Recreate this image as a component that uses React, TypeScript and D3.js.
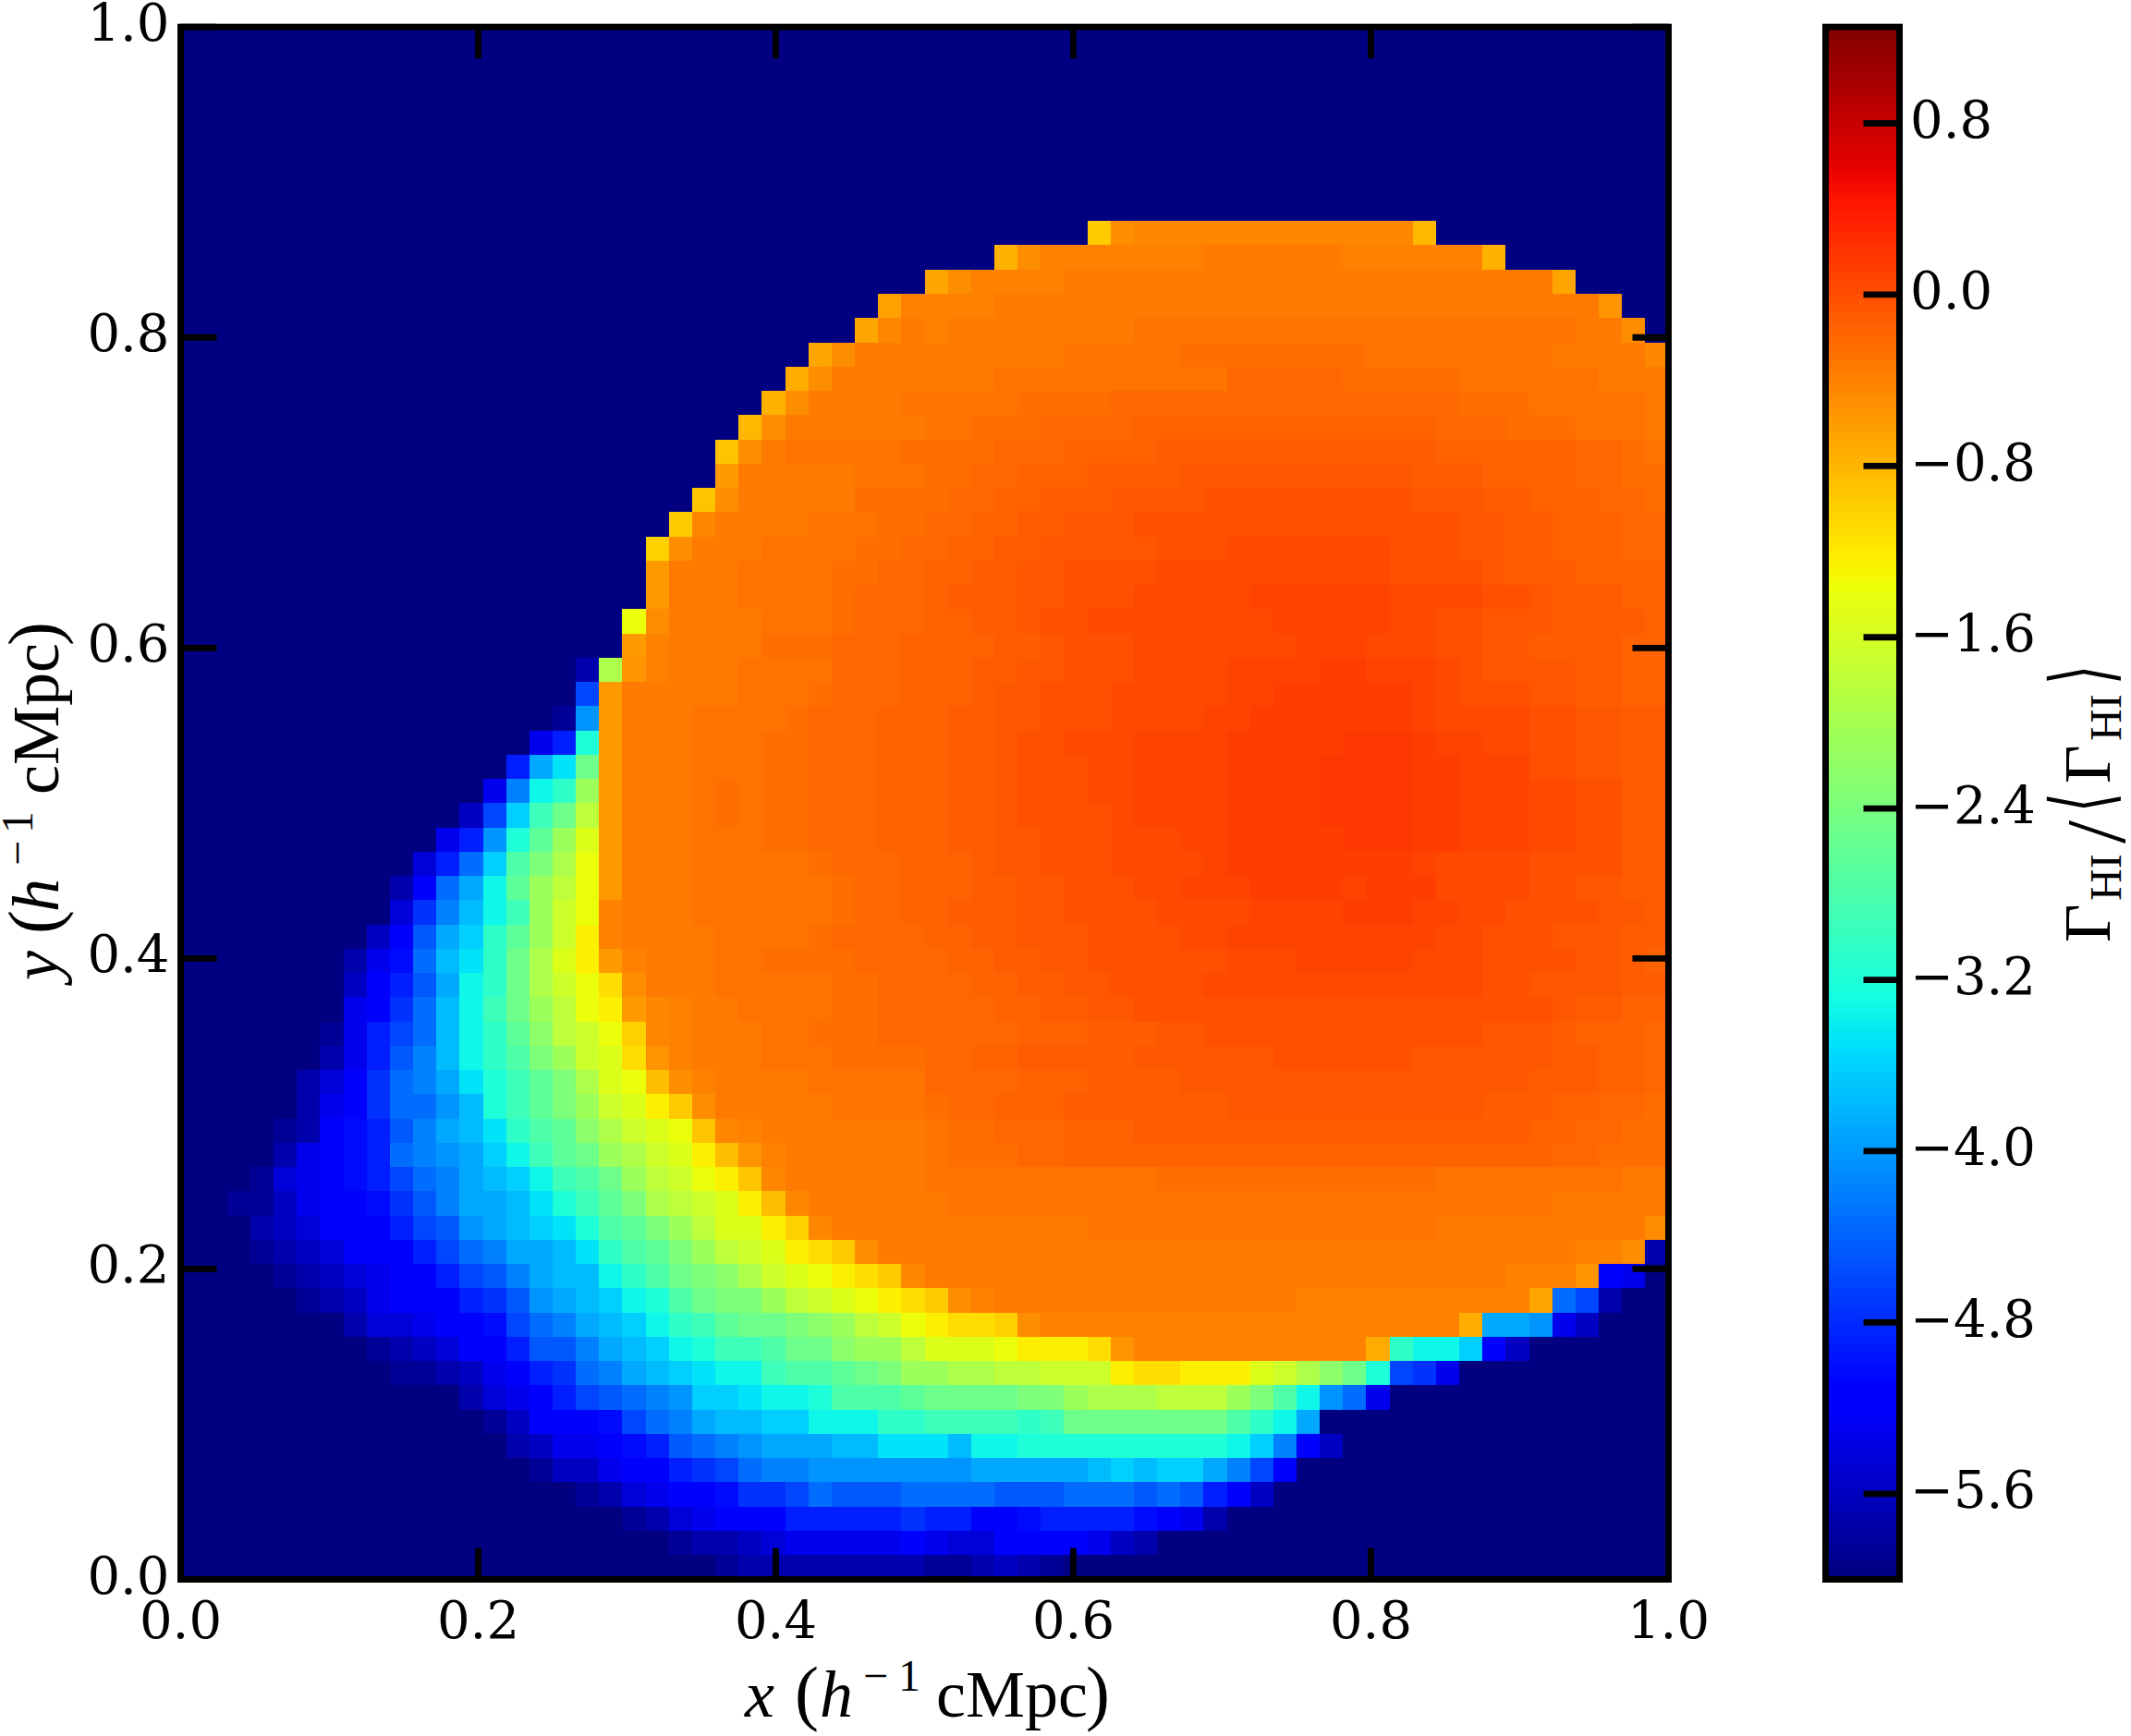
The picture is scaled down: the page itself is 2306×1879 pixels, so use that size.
import { useEffect, useRef } from "react";
import * as d3 from "d3";

// tick labels
const xTicks = [0, 0.2, 0.4, 0.6, 0.8, 1.0];
const yTicks = [0, 0.2, 0.4, 0.6, 0.8, 1.0];
const barTicks = [-5.6, -4.8, -4.0, -3.2, -2.4, -1.6, -0.8, 0.0, 0.8];
const barDomain = [-6.0, 1.25];

// one char per cell: digits/lowercase run -6.0..-1.1 in 0.14 steps, capitals -1.0..0.175 in 0.047 steps
const lowLevels = "0123456789abcdefghijklmnopqrstuvwxyz";
const highLevels = "ABCDEFGHIJKLMNOPQRSTUVWXYZ";

// log10 Gamma_HI / <Gamma_HI>, top row first, 64 x 64 cells
const gammaRows = [
  "00000000 00000000 00000000 00000000 00000000 00000000 00000000 00000000",
  "00000000 00000000 00000000 00000000 00000000 00000000 00000000 00000000",
  "00000000 00000000 00000000 00000000 00000000 00000000 00000000 00000000",
  "00000000 00000000 00000000 00000000 00000000 00000000 00000000 00000000",
  "00000000 00000000 00000000 00000000 00000000 00000000 00000000 00000000",
  "00000000 00000000 00000000 00000000 00000000 00000000 00000000 00000000",
  "00000000 00000000 00000000 00000000 00000000 00000000 00000000 00000000",
  "00000000 00000000 00000000 00000000 00000000 00000000 00000000 00000000",
  "00000000 00000000 00000000 00000000 0000000B LMMMMMMM MMMMME00 00000000",
  "00000000 00000000 00000000 00000000 000FLNNN NNNNOOOO OONNNNNN F0000000",
  "00000000 00000000 00000000 00000000 HLNNNNOO OOOOOOOO OOOOOOOO OOOH0000",
  "00000000 00000000 00000000 000000IN NNNOOOOO OOOOOOOO OOOOOOOO OOOOOK00",
  "00000000 00000000 00000000 00000HMO NOOOOOOO OPPPPPPP PPPPPPPP PPPPOOL0",
  "00000000 00000000 00000000 000HLOOO OOOOOOPP PPPQQQQQ QQQPPPPP PPPOOOOM",
  "00000000 00000000 00000000 00GLOOOO OOOPPPPP PPPPPRRR RRQQQQQP PPPPPOOO",
  "00000000 00000000 00000000 0FLOOOOP PPPPQQQQ RRRRRRRR RRRRRRRQ QQPPPPPO",
  "00000000 00000000 00000000 ELOOOOOO PPQQQRRR RSSSSSSS SSSSSSRR RQQQPPPO",
  "00000000 00000000 0000000C LOPPPPPQ QQQRRRSS SSTTTTTT TTTTTTSS SSSSRRQP",
  "00000000 00000000 0000000J OOOOOPPP QQRRSSST TTTUUUUU UUUUUTTT SSSSRRQQ",
  "00000000 00000000 000000CL OOOOOQQQ QRRSSTTT UUUUVVVV VVVVVUUU TTSSSRRQ",
  "00000000 00000000 00000BMO OOOPPPQQ RRSSTTUU UVVVVVVV VVVVVVVU UTTSSSRR",
  "00000000 00000000 0000ALOO OPPPPQQR RSSTTUUU UUVVVWWW WWWWVVVU UTTSSSRR",
  "00000000 00000000 0000JOOO PPPPQQRR SSTTUUVV VVWWWWWW WWWWVVVV UTTTSSSS",
  "00000000 00000000 0000JOOO PPPPQRRR STTTUUVV VWWWWWXX XXXXWWWW VVUTTTSS",
  "00000000 00000000 000xLOOO OPPPQRRR SSTTUVVW WWWWWWWX XXXXWWVV UUUTTTTS",
  "00000000 00000000 000JNOOO OQQQRRRS SSSTTUVV VWWWWWWW XXXWWWVV UUTTTTSS",
  "00000000 00000000 02tKNOOO PPPPRRRS SSTTUUVV VWWWWXXX XYYXXXWV UUUUTTSS",
  "00000000 00000000 0aJOOOOO PPPQRRRS SSTUUVVV WWWWWXXY YYYYYXWV VVUUTTSS",
  "00000000 00000000 1eJOOOPP PPQRRRSS STTUUVVV WWWWXXYY YYYYYXWW WWVVUUTT",
  "00000000 00000005 8kJOOOPP PQQRRRSS STTUVVWW WXXXXYYY YYZZZYXX WWVVUUTT",
  "00000000 0000008f ipJOOOPP PQQRRRSS STTUVVVW WXXXXYYY YZZZZYYX XXVVUUTT",
  "00000000 000005dj lsJOOOPQ PQQRRRSS STTUVVVW WXXXXYYY YZZZZYYX XXWWVVTT",
  "00000000 00003ahm puJOOOPQ PQQRRRSS STTUVVVV WXXXXYYY YZZZZYYX XXWWVVTT",
  "00000000 00058eko swJOOOPP PQQRRRSS STTUUVVV WWWXXYYY YYZZZYYX XXWWVVTT",
  "00000000 0048chnq txJOOOPP PPPQRRRS SSTUUVVV WWWWXYYY YYYYYXWW WWVVVVTT",
  "00000000 026cfjos uxJOOOPP PPPPQRRS SSTTUUVV VWWXXXYY YYXYYYWW WWVVUUTT",
  "00000000 049dgjms vxNOOOPP PPPPQRRS STTTUUVV VVWWWWXX XXYYYXXW WVVVVUUT",
  "00000000 36bfhlos vyNOOOOP PPPQRRRR SSTTUUUV VVVWWXXX XXXXXXWW VVVUUUTT",
  "00000002 57cgilpt wyJNOOOP PQQQQRRR RSSTTUUV VVVVVWWW XXXXXWWW VVVVUUTS",
  "00000003 68bfjlpt vxzLOOOP PPPPQQRR RRSSTTUU VVVVWWWW WWWWWWWW VVUUUUTT",
  "00000005 69cgjmps uxyJMNOO PPPPQQRR RRRSSTTU UVVVVVVV VVVVVVVV VVVUTTSS",
  "00000015 8acgjlor uvxAMNOO OPPQQQRR RRRRSSST TTUUVVVV VVVVVVVV UUUTSSSR",
  "00000025 8bdgjlnq svwzKNOO OPPPQQQQ RRSSTTTT TUUUUUUV VVVVVUUU UUUTTSSR",
  "00000246 9cdfikmo qtwxDLNO OOOPPPPP RRRRSSST TTTUUUUU UUUUUUUU UUTTTSSR",
  "00000256 9ccegkmo qsvwyBLO OOOOPPPP QRRSSSTT TTTTTUUU UUUUUUUU TTTSSRRQ",
  "00001267 8bdfgiln ortvwxCM NOOOOOOO PQQRRRSS STTTTTTT TTTTTTTT TTSSRRQQ",
  "00002567 8cdefhjm opstvwyD KNOOOOOO PQQQRRSS SSSSSSSS SSSSSSSS SSSRRQQQ",
  "00014567 8acdfghj mnpsuvxy CMOOOOOO PPPPPPPP PPQQQQQQ QQQQQQPP PPPPPPOO",
  "00113566 79bdffgi kmoqtuvw yDMOOOOO OPPPPPPP PPPPPPPP PPPPPPPP PPPOOOOO",
  "00023466 68abefgh iknoqsuw wyAMOOOO OOOOOOOP PPPPPPPP PPPPPPOO OOOOOOOL",
  "00012346 668acdff gilnoqsu vwyzBLOO OOOOOOOO OOOOOOOO OOOOOOOO OOOONNL2",
  "00001234 5668abdf ggjlnpqr tvwxyzBM OOOOOOOO OOOOOOOO OOOOOOOO ONNNK650",
  "00000123 566689be fghjknpq qsuvwxyz BLNOOOOO OOOOOOOO NNNNNNNN NNHca200",
  "00000002 445667ac dfghjlmo ppqrsuvx yzzALNNN NNNNNNNN NNNNNNNG ffe53000",
  "00000000 1234668b bdfghjkm mnpprssu wwwxyyyz KNNNNNNN NNNGljjh 63000000",
  "00000000 01123568 9cdfghij jmnnopqs sttuuvvv yzzyyywv trpka950 00000000",
  "00000000 00002456 8abcdehh ijjknnno ppppqqst ttuuusqn jec50000 00000000",
  "00000000 00000136 667acdfg ghhjjjll mmmmlmpp pppppnlj f0000000 00000000",
  "00000000 00000023 55678bcd efffggii igjjkkkk kkkkkjhd 63000000 00000000",
  "00000000 00000001 3356689a cddeeeee eefffffg hghhfda6 00000000 00000000",
  "00000000 00000000 01245667 99acbbbc cccbbbcc cbcb8630 00000000 00000000",
  "00000000 00000000 00012456 66888889 88667888 87652000 00000000 00000000",
  "00000000 00000000 00000122 34555556 54466665 32000000 00000000 00000000",
  "00000000 00000000 00000001 22222222 11232100 00000000 00000000 00000000",
];

const decodeLevel = (ch: string) => {
  const hi = highLevels.indexOf(ch);
  return hi >= 0 ? -1 + hi * 0.047 : -6 + lowLevels.indexOf(ch) * 0.14;
};

// matplotlib's jet, channel by channel
const jetR = d3.scaleLinear().domain([0.35, 0.66, 0.89, 1]).range([0, 1, 1, 0.5]).clamp(true);
const jetG = d3.scaleLinear().domain([0.125, 0.375, 0.64, 0.91]).range([0, 1, 1, 0]).clamp(true);
const jetB = d3.scaleLinear().domain([0, 0.11, 0.34, 0.65]).range([0.5, 1, 1, 0]).clamp(true);
const jet = (t: number) =>
  `rgb(${Math.round(jetR(t) * 255)},${Math.round(jetG(t) * 255)},${Math.round(jetB(t) * 255)})`;

const serif = "'DejaVu Serif'";
const mathFont = "'Liberation Serif'";

const App = () => {
  const svgRef = useRef<SVGSVGElement>(null);

  useEffect(() => {
    if (!svgRef.current) return;
    const svg = d3.select(svgRef.current);
    svg.selectAll("*").remove();

    const plot = { left: 195.5, right: 1805.5, top: 29.2, bottom: 1709.5 };
    const bar = { left: 1975.5, right: 2055.5 };

    const x = d3.scaleLinear().domain([0, 1]).range([plot.left, plot.right]);
    const y = d3.scaleLinear().domain([0, 1]).range([plot.bottom, plot.top]);
    const c = d3.scaleLinear().domain(barDomain).range([plot.bottom, plot.top]);
    const toT = d3.scaleLinear().domain(barDomain).range([0, 1]);

    const cells = gammaRows.flatMap((row, r) =>
      row
        .replace(/ /g, "")
        .split("")
        .map((ch, col) => ({ col, row: gammaRows.length - 1 - r, value: decodeLevel(ch) }))
    );
    const n = gammaRows.length;

    // heat map
    svg
      .append("g")
      .attr("shape-rendering", "crispEdges")
      .selectAll("rect")
      .data(cells)
      .join("rect")
      .attr("x", (d) => x(d.col / n))
      .attr("y", (d) => y((d.row + 1) / n))
      .attr("width", (d) => x((d.col + 1) / n) - x(d.col / n))
      .attr("height", (d) => y(d.row / n) - y((d.row + 1) / n))
      .attr("fill", (d) => jet(toT(d.value)));

    // colour bar
    const steps = d3.range(256);
    svg
      .append("g")
      .attr("shape-rendering", "crispEdges")
      .selectAll("rect")
      .data(steps)
      .join("rect")
      .attr("x", bar.left)
      .attr("width", bar.right - bar.left)
      .attr("y", (i) => plot.bottom - ((i + 1) / 256) * (plot.bottom - plot.top))
      .attr("height", (plot.bottom - plot.top) / 256 + 0.5)
      .attr("fill", (i) => jet((i + 0.5) / 256));

    const fmt = d3.format(".1f");
    const styleAxis = (g: any) => {
      g.select(".domain").remove();
      g.selectAll("line").attr("stroke", "#000").attr("stroke-width", 6.8);
      g.selectAll("text")
        .attr("fill", "#000")
        .style("font-family", serif)
        .style("font-size", "56px");
    };

    svg
      .append("g")
      .attr("transform", `translate(0,${plot.bottom})`)
      .call(d3.axisBottom(x).tickValues(xTicks).tickFormat(fmt as any).tickSizeInner(-34).tickSizeOuter(0).offset(0))
      .call(styleAxis)
      .selectAll("text")
      .attr("y", 63.5)
      .attr("dy", 0);
    svg
      .append("g")
      .attr("transform", `translate(0,${plot.top})`)
      .call(d3.axisTop(x).tickValues(xTicks).tickFormat(() => "").tickSizeInner(-34).tickSizeOuter(0).offset(0))
      .call(styleAxis);
    svg
      .append("g")
      .attr("transform", `translate(${plot.left},0)`)
      .call(d3.axisLeft(y).tickValues(yTicks).tickFormat(fmt as any).tickSizeInner(-39).tickSizeOuter(0).offset(0))
      .call(styleAxis)
      .selectAll("text")
      .attr("x", -12)
      .attr("dy", 15);
    svg
      .append("g")
      .attr("transform", `translate(${plot.right},0)`)
      .call(d3.axisRight(y).tickValues(yTicks).tickFormat(() => "").tickSizeInner(-39).tickSizeOuter(0).offset(0))
      .call(styleAxis);
    svg
      .append("g")
      .attr("transform", `translate(${bar.right},0)`)
      .call(d3.axisRight(c).tickValues(barTicks).tickFormat(fmt as any).tickSizeInner(-39).tickSizeOuter(0).offset(0))
      .call(styleAxis)
      .selectAll("text")
      .attr("x", 11.5)
      .attr("dy", 15.5);

    // frames
    [
      [plot.left, plot.right],
      [bar.left, bar.right],
    ].forEach(([l, r]) => {
      svg
        .append("rect")
        .attr("x", l)
        .attr("y", plot.top)
        .attr("width", r - l)
        .attr("height", plot.bottom - plot.top)
        .attr("fill", "none")
        .attr("stroke", "#000")
        .attr("stroke-width", 7);
    });

    // labels are set piece by piece, the way mathtext places them
    const put = (
      g: any,
      at: number,
      str: string,
      size: number,
      opts: { italic?: boolean; base?: number; font?: string } = {}
    ) =>
      g
        .append("text")
        .attr("x", at)
        .attr("y", opts.base ?? 0)
        .attr("fill", "#000")
        .style("font-family", opts.font ?? mathFont)
        .style("font-style", opts.italic ? "italic" : "normal")
        .style("font-size", `${size}px`)
        .text(str);

    const xLabel = svg.append("g").attr("transform", "translate(806,1858)");
    put(xLabel, 0, "x", 72, { italic: true });
    put(xLabel, 54, "(", 78);
    put(xLabel, 81, "h", 72, { italic: true });
    put(xLabel, 128, "\u2212", 48, { base: -28 });
    put(xLabel, 166, "1", 48, { base: -28 });
    put(xLabel, 207, "cMpc", 72);
    put(xLabel, 369, ")", 78);

    const yLabel = svg.append("g").attr("transform", "translate(63,1061) rotate(-90)");
    put(yLabel, 0, "y", 72, { italic: true });
    put(yLabel, 50, "(", 78);
    put(yLabel, 74, "h", 72, { italic: true });
    put(yLabel, 124, "\u2212", 48, { base: -28 });
    put(yLabel, 159, "1", 48, { base: -28 });
    put(yLabel, 201, "cMpc", 72);
    put(yLabel, 362, ")", 78);

    const barLabel = svg.append("g").attr("transform", "translate(2283,1020) rotate(-90)");
    put(barLabel, 0, "\u0393", 72);
    put(barLabel, 45, "HI", 48, { base: 12 });
    put(barLabel, 107, "/", 90, { base: 16 });
    put(barLabel, 0, "\u27E8", 90, { font: "'DejaVu Sans'" }).attr("transform", "translate(141,0) scale(0.6,1)");
    put(barLabel, 172, "\u0393", 72);
    put(barLabel, 218, "HI", 48, { base: 12 });
    put(barLabel, 0, "\u27E9", 90, { font: "'DejaVu Sans'" }).attr("transform", "translate(279,0) scale(0.6,1)");
  }, []);

  return (
    <svg
      ref={svgRef}
      width={2306}
      height={1879}
      style={{ position: "absolute", left: 0, top: 0, background: "#fff" }}
    />
  );
};

export default App;
